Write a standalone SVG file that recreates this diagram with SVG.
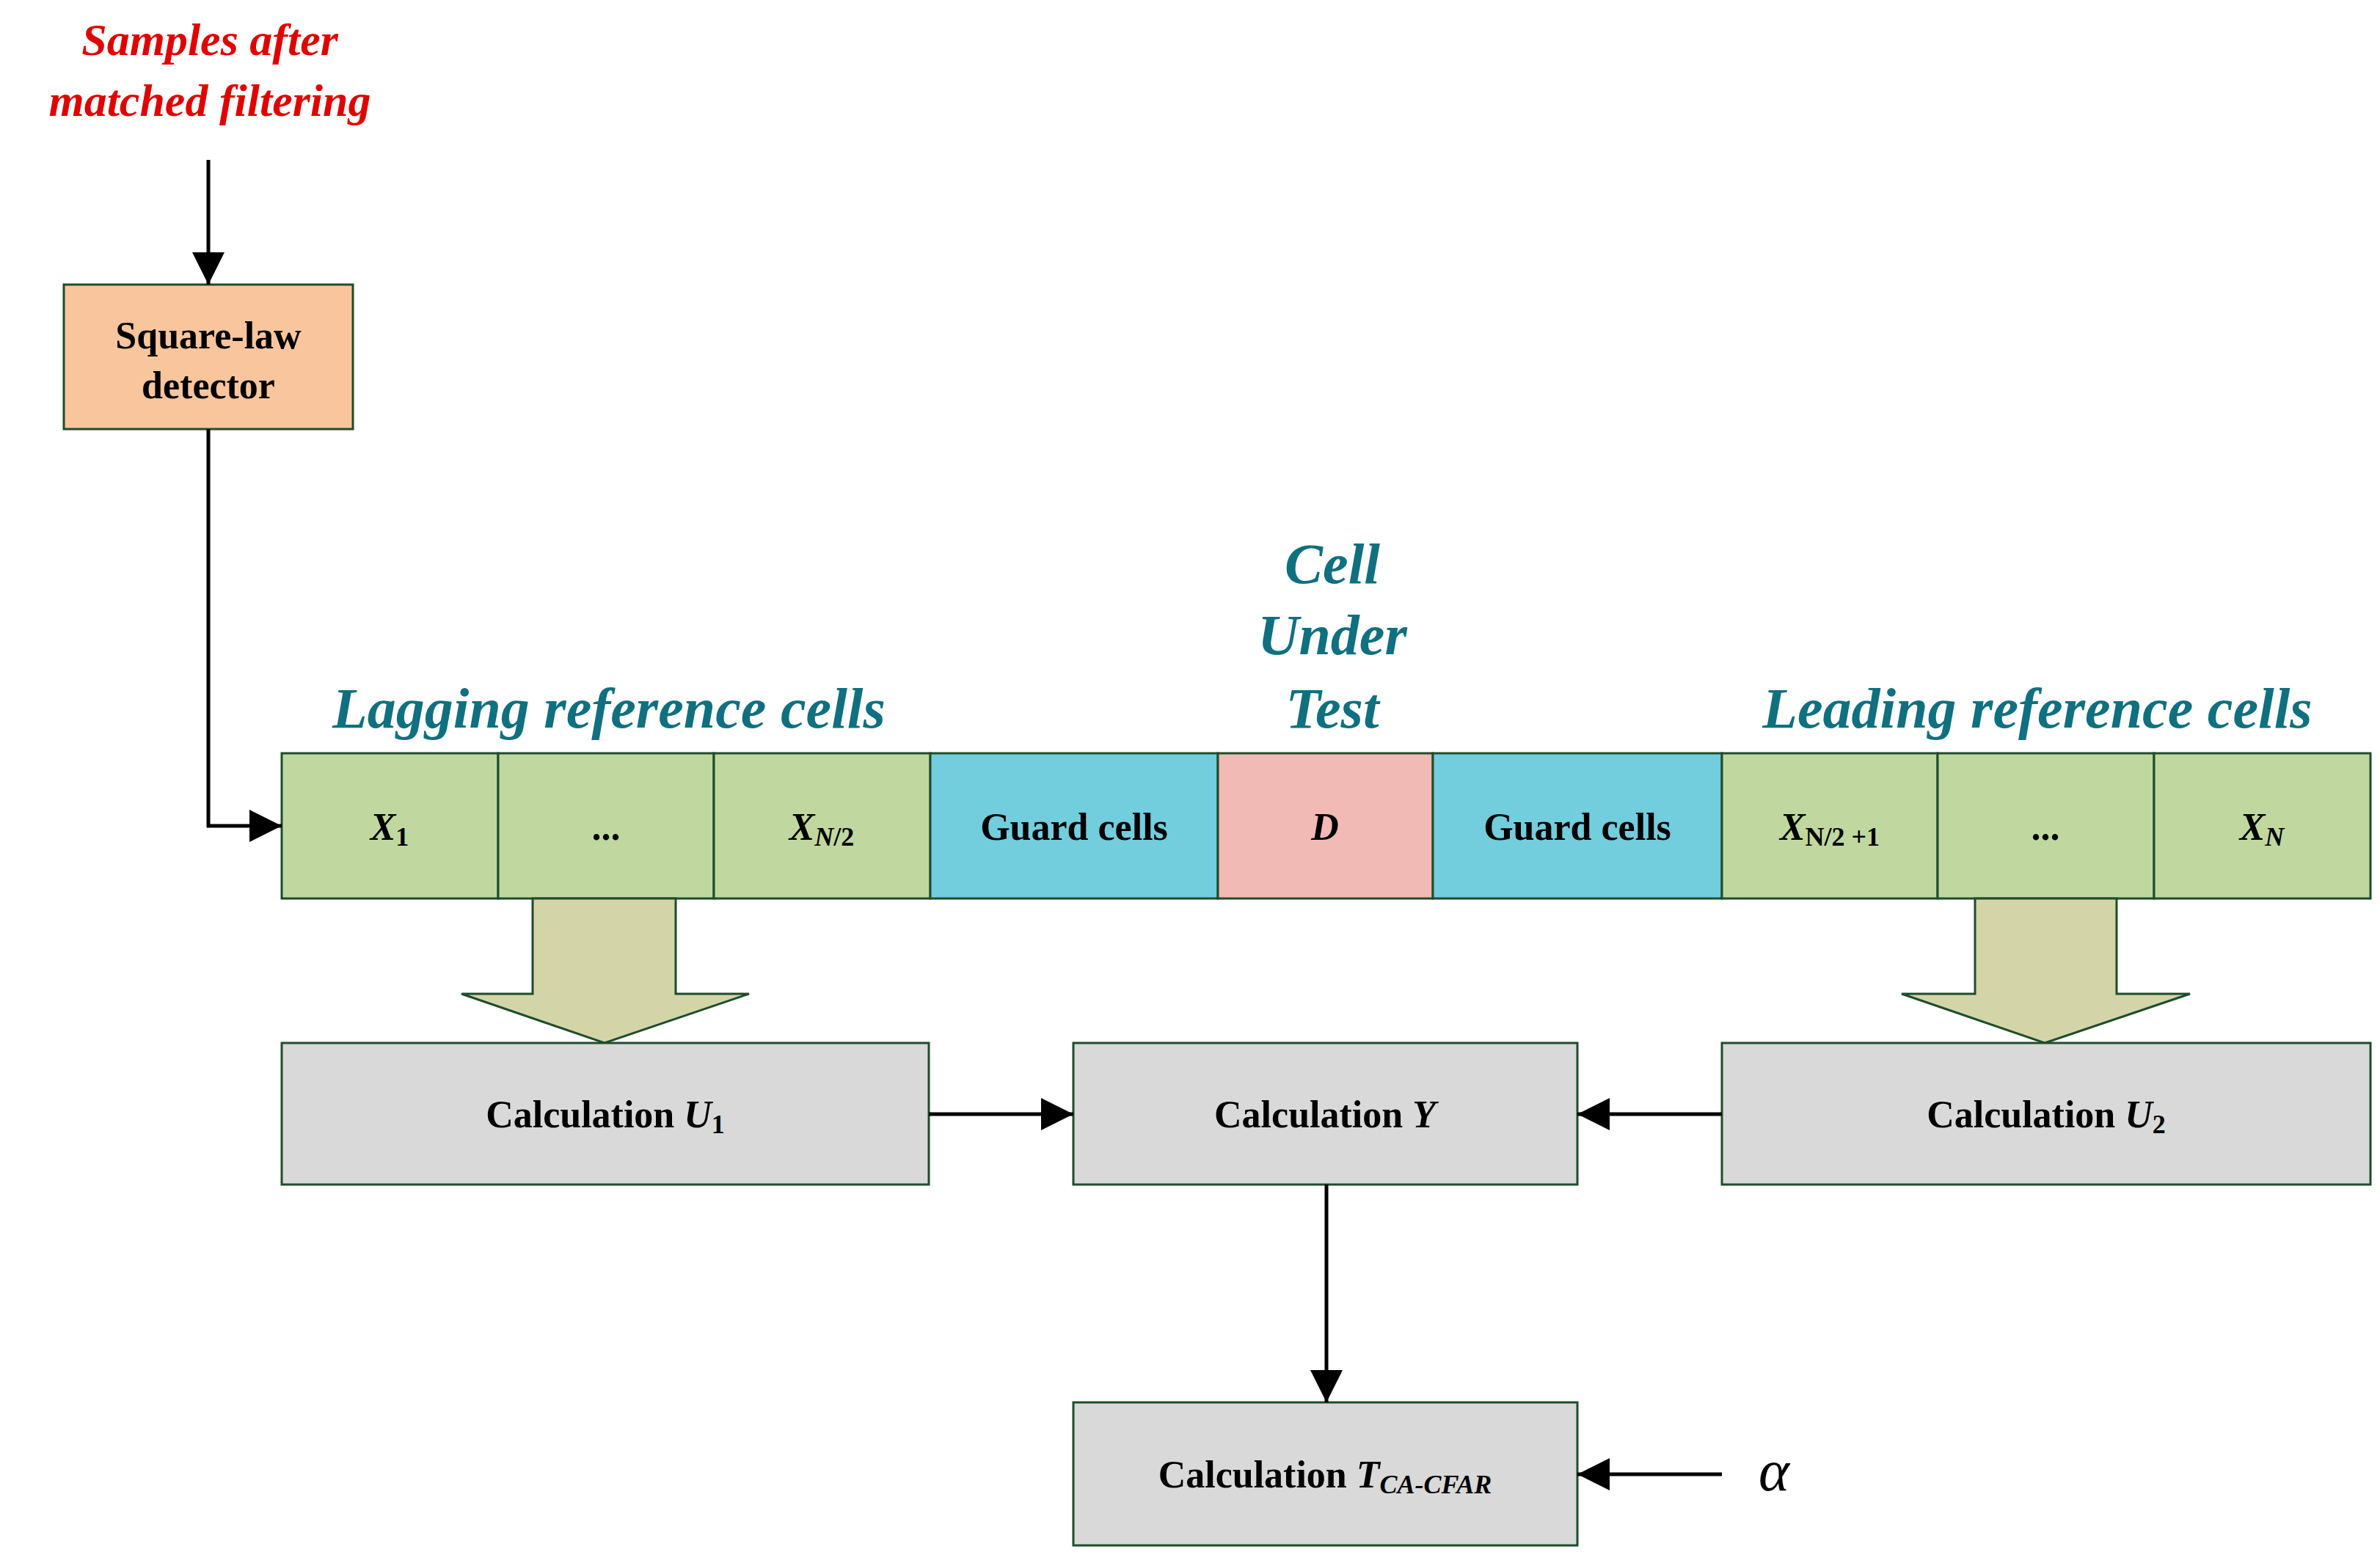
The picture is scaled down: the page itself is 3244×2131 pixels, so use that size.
<svg xmlns="http://www.w3.org/2000/svg" width="3244" height="2131" viewBox="0 0 3244 2131">
<defs>
<style>
.b{stroke:#1e4d2b;stroke-width:3}
.t{font-family:"Liberation Serif",serif;font-weight:bold;font-size:52px;fill:#000;text-anchor:middle}
.h{font-family:"Liberation Serif",serif;font-weight:bold;font-style:italic;font-size:78px;fill:#10707f;text-anchor:middle}
.r{font-family:"Liberation Serif",serif;font-weight:bold;font-style:italic;font-size:62px;fill:#e00000;text-anchor:middle}
.i{font-style:italic}
.c{stroke:#000;stroke-width:5;fill:none}
</style>
<marker id="a" markerWidth="10" markerHeight="10" refX="9" refY="5" orient="auto" markerUnits="userSpaceOnUse" viewBox="0 0 10 10"><path d="M0,0L10,5L0,10z" fill="#000"/></marker>
<marker id="m" viewBox="0 0 10 10" refX="10" refY="5" markerWidth="44" markerHeight="44" orient="auto" markerUnits="userSpaceOnUse"><path d="M0,0L10,5L0,10z" fill="#000"/></marker>
</defs>
<g id="title"><text class="r" x="286" y="75">Samples after</text><text class="r" x="286" y="158">matched filtering</text></g>
<g id="detector"><rect class="b" x="87" y="388" width="394" height="197" fill="#f9c59d"/><text class="t" x="284" y="475">Square-law</text><text class="t" x="284" y="543">detector</text></g>
<g id="labels">
<text class="h" x="830" y="992">Lagging reference cells</text>
<text class="h" x="1816" y="795">Cell</text><text class="h" x="1816" y="892">Under</text><text class="h" x="1816" y="992">Test</text>
<text class="h" x="2777" y="992">Leading reference cells</text>
</g>
<g id="cells">
<rect class="b" x="384" y="1027" width="295" height="198" fill="#c0d89f"/>
<rect class="b" x="679" y="1027" width="294" height="198" fill="#c0d89f"/>
<rect class="b" x="973" y="1027" width="295" height="198" fill="#c0d89f"/>
<rect class="b" x="1268" y="1027" width="392" height="198" fill="#72cddd"/>
<rect class="b" x="1660" y="1027" width="293" height="198" fill="#f2bab5"/>
<rect class="b" x="1953" y="1027" width="394" height="198" fill="#72cddd"/>
<rect class="b" x="2347" y="1027" width="294" height="198" fill="#c0d89f"/>
<rect class="b" x="2641" y="1027" width="295" height="198" fill="#c0d89f"/>
<rect class="b" x="2936" y="1027" width="295" height="198" fill="#c0d89f"/>
<text class="t" x="531" y="1145"><tspan class="i">X</tspan><tspan font-size="36" dy="8">1</tspan></text>
<text class="t" x="826" y="1145">...</text>
<text class="t" x="1120" y="1145"><tspan class="i">X</tspan><tspan font-size="36" dy="8" class="i">N</tspan><tspan font-size="36">/2</tspan></text>
<text class="t" x="1464" y="1145">Guard cells</text>
<text class="t i" x="1806" y="1145">D</text>
<text class="t" x="2150" y="1145">Guard cells</text>
<text class="t" x="2494" y="1145"><tspan class="i">X</tspan><tspan font-size="36" dy="8">N/2 +1</tspan></text>
<text class="t" x="2788" y="1145">...</text>
<text class="t" x="3083" y="1145"><tspan class="i">X</tspan><tspan font-size="36" dy="8" class="i">N</tspan></text>
</g>
<g id="bigarrows">
<path class="b" fill="#d3d5a9" d="M726,1225V1355H629L824,1422L1021,1355H921V1225z"/>
<path class="b" fill="#d3d5a9" d="M2692,1225V1355H2592L2787,1422L2985,1355H2885V1225z"/>
</g>
<g id="calcU1"><rect class="b" x="384" y="1422" width="882" height="193" fill="#d9d9d9"/><text class="t" x="825" y="1537">Calculation <tspan class="i">U</tspan><tspan font-size="36" dy="8">1</tspan></text></g>
<g id="calcY"><rect class="b" x="1463" y="1422" width="687" height="193" fill="#d9d9d9"/><text class="t" x="1806" y="1537">Calculation  <tspan class="i">Y</tspan></text></g>
<g id="calcU2"><rect class="b" x="2347" y="1422" width="884" height="193" fill="#d9d9d9"/><text class="t" x="2789" y="1537">Calculation  <tspan class="i">U</tspan><tspan font-size="36" dy="8">2</tspan></text></g>
<g id="calcT"><rect class="b" x="1463" y="1912" width="687" height="195" fill="#d9d9d9"/><text class="t" x="1806" y="2028">Calculation  <tspan class="i">T</tspan><tspan font-size="36" dy="8" class="i">CA-CFAR</tspan></text></g>
<g id="alpha"><text x="2418" y="2032" font-family="Liberation Serif,serif" font-style="italic" font-size="80" text-anchor="middle">α</text></g>
<g id="connectors">
<path class="c" d="M284,218V388" marker-end="url(#m)"/>
<path class="c" d="M284,585V1126H384" marker-end="url(#m)"/>
<path class="c" d="M1266,1519H1463" marker-end="url(#m)"/>
<path class="c" d="M2347,1519H2150" marker-end="url(#m)"/>
<path class="c" d="M1808,1615V1912" marker-end="url(#m)"/>
<path class="c" d="M2347,2010H2150" marker-end="url(#m)"/>
</g>
</svg>
